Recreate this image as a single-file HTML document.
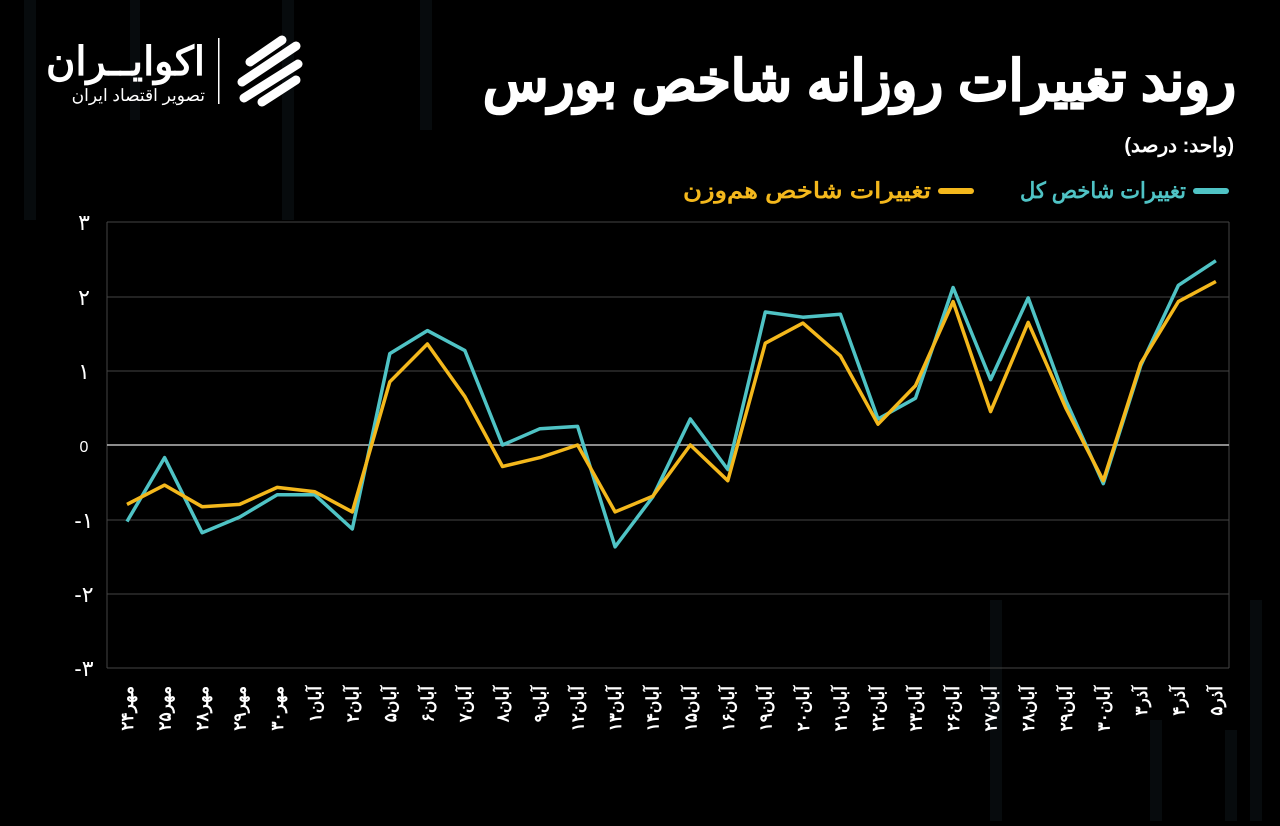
<!DOCTYPE html>
<html><head><meta charset="utf-8">
<style>
html,body{margin:0;padding:0;background:#000;}
body{width:1280px;height:821px;overflow:hidden;font-family:"Liberation Sans","Noto Sans CJK SC",sans-serif;}
</style></head>
<body>
<svg width="1280" height="821" viewBox="0 0 1280 821" xmlns="http://www.w3.org/2000/svg" font-family="'Liberation Sans','Noto Sans CJK SC',sans-serif">
<rect width="1280" height="821" fill="#000"/>
<g fill="#070b0d">
<rect x="24" y="0" width="12" height="220"/>
<rect x="130" y="0" width="10" height="120"/>
<rect x="282" y="0" width="12" height="220"/>
<rect x="420" y="0" width="12" height="130"/>
<rect x="990" y="600" width="12" height="221"/>
<rect x="1250" y="600" width="12" height="221"/>
<rect x="1150" y="720" width="12" height="101"/>
<rect x="1225" y="730" width="12" height="91"/>
</g>
<g fill="#fff">
<text x="205" y="75" font-size="40" font-weight="bold" text-anchor="end">اکوایــران</text>
<text x="205" y="101" font-size="17" text-anchor="end">تصویر اقتصاد ایران</text>
<rect x="218" y="38" width="1.5" height="66"/>
<g stroke="#fff" stroke-width="9" fill="none" stroke-linecap="round">
<path d="M250 62 L282 40"/><path d="M242 82 L296 46"/><path d="M244 98 L298 64"/><path d="M262 102 L296 80"/>
</g>
</g>
<text x="1236" y="100" font-size="56" font-weight="bold" fill="#fff" text-anchor="end" stroke="#fff" stroke-width="1.5" textLength="753" lengthAdjust="spacingAndGlyphs">روند تغییرات روزانه شاخص بورس</text>
<text x="1234" y="152" font-size="20" font-weight="bold" fill="#fff" text-anchor="end">(واحد: درصد)</text>
<rect x="1193" y="188" width="36" height="6" rx="3" fill="#4fc3c5"/>
<text x="1186" y="198" font-size="22" font-weight="bold" fill="#4fc3c5" text-anchor="end" textLength="166" lengthAdjust="spacingAndGlyphs">تغییرات شاخص کل</text>
<rect x="938" y="188" width="36" height="6" rx="3" fill="#f4b81c"/>
<text x="931" y="198" font-size="22" font-weight="bold" fill="#f4b81c" text-anchor="end" textLength="248" lengthAdjust="spacingAndGlyphs">تغییرات شاخص هم‌وزن</text>
<g stroke="#444" stroke-width="1">
<line x1="107" y1="222" x2="1229" y2="222"/><line x1="107" y1="297" x2="1229" y2="297"/>
<line x1="107" y1="371" x2="1229" y2="371"/><line x1="107" y1="520" x2="1229" y2="520"/>
<line x1="107" y1="594" x2="1229" y2="594"/><line x1="107" y1="668" x2="1229" y2="668"/>
<line x1="107" y1="222" x2="107" y2="668"/><line x1="1229" y1="222" x2="1229" y2="668"/>
</g>
<line x1="107" y1="445" x2="1229" y2="445" stroke="#bbb" stroke-width="1.5"/>
<g fill="#fff" font-size="22" text-anchor="middle">
<text x="84" y="230">۳</text><text x="84" y="305">۲</text><text x="84" y="379">۱</text>
<text x="84" y="452" font-size="16">0</text><text x="84" y="528">-۱</text><text x="84" y="602">-۲</text><text x="84" y="676">-۳</text>
</g>
<g id="lines" fill="none" stroke-width="3.5" stroke-linejoin="round"></g>
<g id="labels" fill="#fff" font-size="17" font-weight="bold"></g>
</svg>
<script>
var t=[-1.03,-0.17,-1.18,-0.97,-0.67,-0.67,-1.13,1.23,1.54,1.27,0.0,0.22,0.25,-1.37,-0.7,0.35,-0.33,1.79,1.72,1.76,0.35,0.63,2.12,0.88,1.98,0.6,-0.52,1.07,2.15,2.48];
var y=[-0.8,-0.54,-0.83,-0.8,-0.57,-0.63,-0.9,0.85,1.36,0.65,-0.29,-0.17,0.0,-0.9,-0.69,0.0,-0.48,1.37,1.64,1.2,0.28,0.8,1.93,0.45,1.65,0.5,-0.48,1.1,1.93,2.2];
var L=["مهر۲۴","مهر۲۵","مهر۲۸","مهر۲۹","مهر۳۰","آبان۱","آبان۲","آبان۵","آبان۶","آبان۷","آبان۸","آبان۹","آبان۱۲","آبان۱۳","آبان۱۴","آبان۱۵","آبان۱۶","آبان۱۹","آبان۲۰","آبان۲۱","آبان۲۲","آبان۲۳","آبان۲۶","آبان۲۷","آبان۲۸","آبان۲۹","آبان۳۰","آذر۳","آذر۴","آذر۵"];
function px(i){return 127+i*37.55;}function py(v){return 445-74.3*v;}
function pts(a){return a.map(function(v,i){return px(i).toFixed(1)+","+py(v).toFixed(1)}).join(" ");}
var ns="http://www.w3.org/2000/svg",g=document.getElementById("lines");
[[t,"#4fc3c5"],[y,"#f4b81c"]].forEach(function(s){var p=document.createElementNS(ns,"polyline");p.setAttribute("points",pts(s[0]));p.setAttribute("stroke",s[1]);g.appendChild(p);});
var lg=document.getElementById("labels");
L.forEach(function(s,i){var e=document.createElementNS(ns,"text");var x=px(i)+6,yy=686;e.setAttribute("x",x);e.setAttribute("y",yy);e.setAttribute("transform","rotate(-90 "+x+" "+yy+")");e.setAttribute("text-anchor","end");e.textContent=s;lg.appendChild(e);});
</script>
</body></html>
